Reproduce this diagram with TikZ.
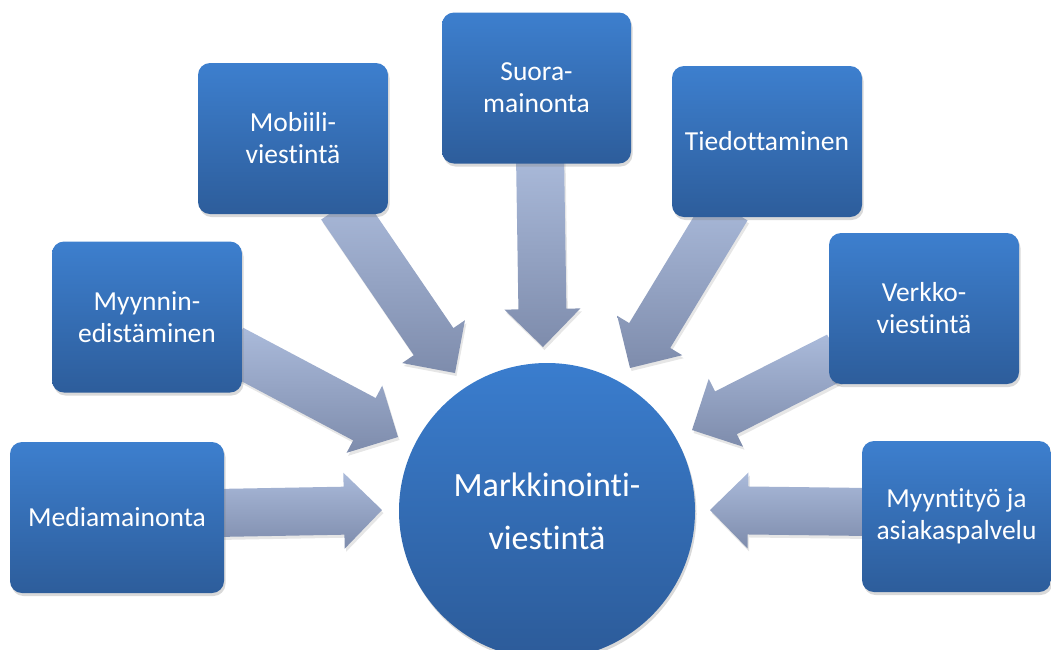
\documentclass[tikz,border=0pt]{standalone}
\usepackage{fontspec}
\setmainfont{Carlito}[Ligatures={NoCommon,NoContextual}]
\usetikzlibrary{calc,shadows}
\definecolor{boxtop}{RGB}{61,127,206}
\definecolor{boxbot}{RGB}{45,93,155}
\definecolor{hubtop}{RGB}{58,125,206}
\definecolor{hubbot}{RGB}{44,91,153}
\definecolor{arrtop}{RGB}{170,186,218}
\definecolor{arrbot}{RGB}{126,140,172}
\tikzset{
  boxnode/.style={rectangle, rounded corners=12pt, top color=boxtop, bottom color=boxbot,
    draw=none, text=white, align=center, inner sep=0pt,
    minimum width=190pt, minimum height=151pt,
    font=\fontsize{27.5}{32}\selectfont,
    drop shadow={shadow xshift=1.5pt, shadow yshift=-3pt, opacity=0.3}},
  hubnode/.style={circle, top color=hubtop, bottom color=hubbot, draw=none, text=white,
    align=center, inner sep=0pt, minimum size=296pt,
    font=\fontsize{34}{53}\selectfont,
    drop shadow={shadow xshift=1.5pt, shadow yshift=-3pt, opacity=0.3}},
  blockarrow/.style={top color=arrtop, bottom color=arrbot, draw=none,
    drop shadow={shadow xshift=1.5pt, shadow yshift=-3pt, opacity=0.2}},
}
\newcommand\blkarrow[2]{%
  \path[blockarrow] ($(#1)!24pt!90:(#2)$)
    -- ($(#2)!38pt!(#1)!24pt!90:(#2)$)
    -- ($(#2)!38pt!(#1)!38pt!90:(#2)$)
    -- (#2)
    -- ($(#2)!38pt!(#1)!38pt!-90:(#2)$)
    -- ($(#2)!38pt!(#1)!24pt!-90:(#2)$)
    -- ($(#1)!24pt!-90:(#2)$) -- cycle;}
\begin{document}
\begin{tikzpicture}[x=1pt,y=1pt]
\useasboundingbox (0,0) rectangle (1051,-649);
% arrow ends
\coordinate (sMed) at (215,-513);   \coordinate (tMed) at (382,-510);
\coordinate (sMyy) at (232,-349);   \coordinate (tMyy) at (398,-437);
\coordinate (sMob) at (341,-206);   \coordinate (tMob) at (455,-373);
\coordinate (sSuo) at (540,-155);   \coordinate (tSuo) at (543,-347);
\coordinate (sTie) at (727,-208);   \coordinate (tTie) at (630,-368);
\coordinate (sVer) at (838,-356);   \coordinate (tVer) at (692,-430);
\coordinate (sAsi) at (870,-512);   \coordinate (tAsi) at (710,-510);
\blkarrow{sMed}{tMed}
\blkarrow{sMyy}{tMyy}
\blkarrow{sMob}{tMob}
\blkarrow{sSuo}{tSuo}
\blkarrow{sTie}{tTie}
\blkarrow{sVer}{tVer}
\blkarrow{sAsi}{tAsi}
% boxes
\node[boxnode, minimum width=214pt] (med) at (117,-517.5) {Mediamainonta};
\node[boxnode] (myy) at (147,-317) {Myynnin-\\edistäminen};
\node[boxnode] (mob) at (293,-138.5) {Mobiili-\\viestintä};
\node[boxnode, minimum width=189pt] (suo) at (536.5,-88) {Suora-\\mainonta};
\node[boxnode] (tie) at (767,-141.5) {Tiedottaminen};
\node[boxnode] (ver) at (924,-308.5) {Verkko-\\viestintä};
\node[boxnode, minimum width=189pt] (asi) at (956.5,-516.5) {Myyntityö ja\\asiakaspalvelu};
% hub
\node[hubnode] (hub) at (547,-511) {Markkinointi-\\viestintä};
\end{tikzpicture}
\end{document}
